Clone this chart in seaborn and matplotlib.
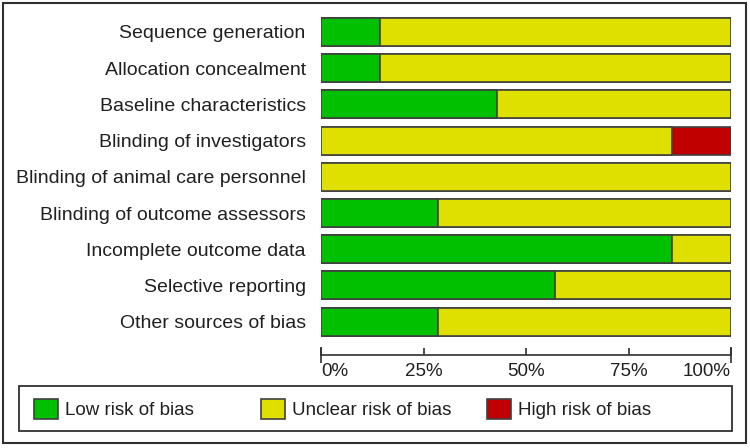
import matplotlib
matplotlib.use("Agg")
import matplotlib.pyplot as plt
from matplotlib.patches import Patch, Rectangle
from matplotlib.ticker import PercentFormatter
import seaborn as sns
import pandas as pd

domains = [
    "Sequence generation",
    "Allocation concealment",
    "Baseline characteristics",
    "Blinding of investigators",
    "Blinding of animal care personnel",
    "Blinding of outcome assessors",
    "Incomplete outcome data",
    "Selective reporting",
    "Other sources of bias",
]
low = [14.3, 14.3, 42.9, 0.0, 0.0, 28.6, 85.7, 57.1, 28.6]
unclear = [85.7, 85.7, 57.1, 85.7, 100.0, 71.4, 14.3, 42.9, 71.4]
high = [0.0, 0.0, 0.0, 14.3, 0.0, 0.0, 0.0, 0.0, 0.0]

categories = ["Low risk of bias", "Unclear risk of bias", "High risk of bias"]
colors = ["#00c000", "#e0e000", "#c00000"]
edge = "#404040"
text_color = "#202020"
fs = 13.5

df = pd.DataFrame({"domain": domains, "low": low, "unclear": unclear, "high": high})
df["cum_low"] = df["low"] / 100
df["cum_unclear"] = (df["low"] + df["unclear"]) / 100
df["cum_high"] = (df["low"] + df["unclear"] + df["high"]) / 100

sns.set_style("white")
plt.rcParams["font.family"] = ["Liberation Sans", "DejaVu Sans"]

fig = plt.figure(figsize=(7.5, 4.48), dpi=100)
ax = fig.add_axes([0.428, 0.2417, 0.5467, 0.7273])

# stacked bars: draw cumulative totals from back to front
for col, c in zip(["cum_high", "cum_unclear", "cum_low"], colors[::-1]):
    sub = df[df[col] > 0]
    sns.barplot(data=sub, x=col, y="domain", order=domains, color=c,
                width=0.77, edgecolor=edge, linewidth=1.2, orient="h",
                ax=ax, saturation=1)

ax.set_xlim(0, 1)
ax.set_xlabel("")
ax.set_ylabel("")
ax.xaxis.set_major_formatter(PercentFormatter(1.0, decimals=0))
ax.set_xticks([0, 0.25, 0.5, 0.75, 1.0])
ax.xaxis.remove_overlapping_locs = False
ax.set_xticks([0, 1.0], minor=True)

for s in ["top", "right", "left"]:
    ax.spines[s].set_visible(False)
ax.spines["bottom"].set_position(("outward", 11))
ax.spines["bottom"].set_color("#303030")
ax.spines["bottom"].set_linewidth(1.2)

ax.tick_params(axis="y", length=0, pad=11, labelsize=14, labelcolor=text_color)
ax.tick_params(axis="x", direction="in", length=5, width=1.2, color="#303030",
               pad=6, labelsize=fs, labelcolor=text_color, bottom=True)
# end ticks cross the axis line
ax.tick_params(axis="x", which="minor", direction="inout", length=11, width=1.2,
               color="#303030", bottom=True)
labels = ax.get_xticklabels()
labels[0].set_horizontalalignment("left")
labels[-1].set_horizontalalignment("right")

# legend: one entry per fixed column, inside a drawn frame
for x0, c, lab in zip([0.0453, 0.348, 0.649], colors, categories):
    leg = fig.legend(handles=[Patch(facecolor=c, edgecolor=edge, linewidth=1.2, label=lab)],
                     loc="center left", bbox_to_anchor=(x0, 0.087), frameon=False,
                     fontsize=fs, handlelength=1.28, handleheight=1.33,
                     handletextpad=0.4, borderpad=0, borderaxespad=0)
    for t in leg.get_texts():
        t.set_color(text_color)

fig.patches.append(Rectangle((0.0253, 0.038), 0.9507, 0.1004, transform=fig.transFigure,
                             fill=False, edgecolor="#303030", linewidth=1.3))

# outer frame
fig.patches.append(Rectangle((0.004, 0.0112), 0.9913, 0.9821, transform=fig.transFigure,
                             fill=False, edgecolor="#303030", linewidth=1.5))

fig.savefig("out.png", dpi=100)
